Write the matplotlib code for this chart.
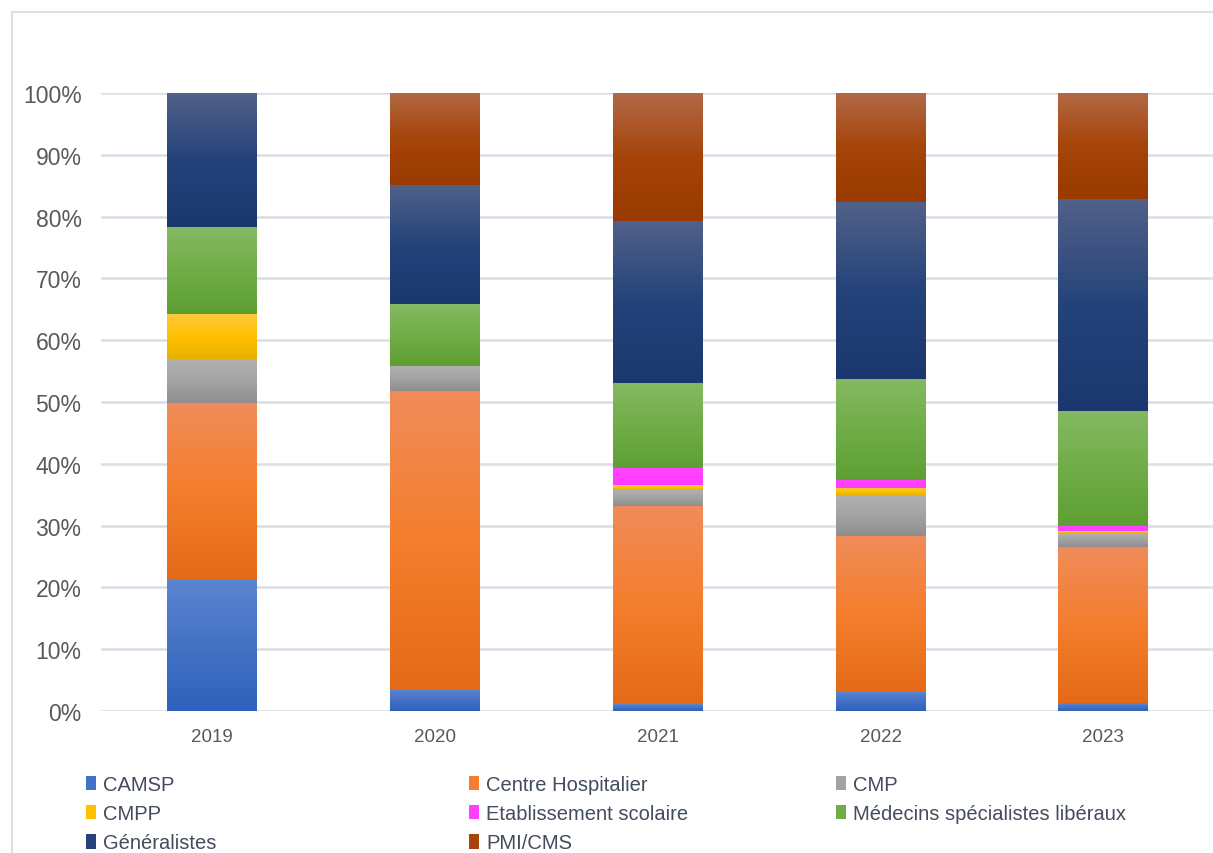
import numpy as np
import matplotlib
matplotlib.use("Agg")
import matplotlib.pyplot as plt
from matplotlib.colors import LinearSegmentedColormap
from matplotlib.patches import Patch, Rectangle

years = ["2019", "2020", "2021", "2022", "2023"]
camsp = [21.3, 3.4, 1.1, 3.1, 1.25]
centre_hosp = [28.5, 48.3, 32.0, 25.2, 25.25]
cmp_ = [7.2, 4.2, 2.7, 6.5, 2.3]
cmpp = [7.2, 0.0, 0.7, 1.3, 0.3]
etab = [0.0, 0.0, 2.9, 1.2, 0.8]
medecins = [14.1, 9.9, 13.6, 16.5, 18.7]
generalistes = [21.7, 19.3, 26.3, 28.6, 34.2]
pmi = [0.0, 14.9, 20.7, 17.6, 17.2]

series = [
    ("CAMSP", camsp, ("#5C84D0", "#4472C4", "#2E62BD")),
    ("Centre Hospitalier", centre_hosp, ("#F08C5A", "#F47E2D", "#E46A18")),
    ("CMP", cmp_, ("#B2B2B2", "#A3A3A3", "#8E8E8E")),
    ("CMPP", cmpp, ("#FFC940", "#FFC000", "#E6B000")),
    ("Etablissement scolaire", etab, ("#FF44FF", "#FF40FF", "#FF3CFF")),
    ("Médecins spécialistes libéraux", medecins, ("#86B963", "#70AD47", "#5E9F33")),
    ("Généralistes", generalistes, ("#526189", "#24437A", "#1B376F")),
    ("PMI/CMS", pmi, ("#B26946", "#A64409", "#993A00")),
]

plt.rcParams['font.family'] = ['Liberation Sans', 'DejaVu Sans']

fig = plt.figure(figsize=(12.13, 8.54), dpi=100)
W, H = 1213, 854
# chart border (left and top edges visible)
fig.patches.append(Rectangle((12 / W, -0.2), 2.0, 1 - 13 / H + 0.2, transform=fig.transFigure,
                             fill=False, edgecolor="#D9D9D9", linewidth=1.2))

ax = fig.add_axes([101 / W, 1 - 712 / H, 1 - 101 / W, (712 - 94) / H])
x = np.arange(len(years))
bw = 0.404
bottom = np.zeros(len(years))
handles = []
for name, vals, (top_c, mid_c, bot_c) in series:
    v = np.array(vals) / 100.0
    bars = ax.bar(x, v, bw, bottom=bottom, color=mid_c, linewidth=0, zorder=2)
    cmap = LinearSegmentedColormap.from_list(name, [bot_c, mid_c, top_c])
    grad = np.linspace(0, 1, 256).reshape(-1, 1)
    for rect in bars.patches:
        h = rect.get_height()
        if h <= 0:
            continue
        x0, y0 = rect.get_xy()
        ax.imshow(grad, cmap=cmap, extent=[x0, x0 + rect.get_width(), y0, y0 + h],
                  origin="lower", aspect="auto", clip_path=rect, zorder=2.5,
                  interpolation="bilinear")
    bottom += v
    handles.append(Patch(facecolor=mid_c, label=name))

ax.set_xlim(-0.5, -0.5 + (W - 101) / 222.75)
ax.set_ylim(0, 1.0)
ax.set_yticks(np.arange(0, 1.01, 0.1))
ax.set_yticklabels([f"{int(round(t * 100))}%" for t in np.arange(0, 1.01, 0.1)])
ax.set_xticks(x)
ax.set_xticklabels(years)
ax.tick_params(axis="y", length=0, labelsize=16.5, labelcolor="#595959", pad=14)
ax.tick_params(axis="x", length=0, labelsize=13.5, labelcolor="#595959", pad=12)
ax.grid(axis="y", color="#D9DEE7", linewidth=1.8, zorder=0)
ax.set_axisbelow(True)
for s in ax.spines.values():
    s.set_visible(False)

# legend in three columns
cols = [[0, 3, 6], [1, 4, 7], [2, 5]]
col_x = [78, 461, 828]
for cx, idxs in zip(col_x, cols):
    leg = fig.legend(handles=[handles[i] for i in idxs], loc="upper left",
                     bbox_to_anchor=(cx / W, 1 - 768 / H), frameon=False,
                     fontsize=14.5, handlelength=0.5, handleheight=0.75,
                     handletextpad=0.35, labelspacing=0.5, borderaxespad=0,
                     labelcolor="#434C5C")

fig.savefig("out.png", dpi=100)
